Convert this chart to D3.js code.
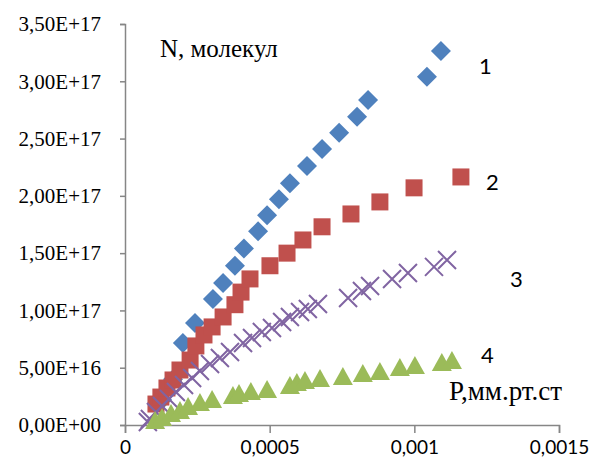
<!DOCTYPE html>
<html>
<head>
<meta charset="utf-8">
<script src="https://cdn.jsdelivr.net/npm/d3@7"></script>
<style>
  body { margin: 0; background: #fff; }
  svg { display: block; }
</style>
</head>
<body>
<svg id="chart"></svg>
<script>
const width = 594;
const height = 466;
const margin = { top: 24, right: 35, bottom: 41, left: 125 };

// pressure, mm Hg
const p1 = [0.000128, 0.000166, 0.000200, 0.000242, 0.000304, 0.000339, 0.000380, 0.000411, 0.000460,
  0.000491, 0.000532, 0.000570, 0.000629, 0.000681, 0.000740, 0.000802, 0.000840, 0.0010435, 0.001092];
const n1 = [0.22e17, 0.40e17, 0.716e17, 0.89e17, 1.10e17, 1.24e17, 1.39e17, 1.54e17, 1.69e17,
  1.83e17, 1.97e17, 2.11e17, 2.26e17, 2.41e17, 2.55e17, 2.69e17, 2.837e17, 3.04e17, 3.265e17];

const p2 = [0.000107, 0.000124, 0.000145, 0.000166, 0.000190, 0.000225, 0.000245, 0.000273, 0.000301, 0.000339,
  0.000380, 0.000401, 0.000432, 0.000501, 0.000560, 0.000615, 0.000681, 0.000781, 0.000881, 0.000999, 0.001161];
const n2 = [0.183e17, 0.244e17, 0.323e17, 0.393e17, 0.48e17, 0.567e17, 0.69e17, 0.786e17, 0.856e17, 0.943e17,
  1.05e17, 1.16e17, 1.275e17, 1.39e17, 1.50e17, 1.615e17, 1.73e17, 1.842e17, 1.947e17, 2.07e17, 2.165e17];

const p3 = [0.000079, 0.000086, 0.000107, 0.000128, 0.000152, 0.000176, 0.000204, 0.000232, 0.000259, 0.000294,
  0.000328, 0.000363, 0.000408, 0.000439, 0.000473, 0.000508, 0.000543, 0.000570, 0.000605, 0.000632,
  0.000667, 0.000771, 0.000819, 0.000847, 0.000923, 0.000978, 0.001068, 0.001113];
const n3 = [0.026e17, 0.052e17, 0.113e17, 0.166e17, 0.227e17, 0.288e17, 0.349e17, 0.41e17, 0.471e17, 0.533e17,
  0.585e17, 0.637e17, 0.716e17, 0.76e17, 0.812e17, 0.847e17, 0.899e17, 0.943e17, 0.986e17, 1.013e17,
  1.056e17, 1.109e17, 1.17e17, 1.213e17, 1.275e17, 1.327e17, 1.38e17, 1.44e17];

const p4 = [0.000104, 0.000128, 0.000159, 0.000190, 0.000218, 0.000259, 0.000301, 0.000373, 0.000394, 0.000435,
  0.000491, 0.000570, 0.000594, 0.000622, 0.000674, 0.000753, 0.000822, 0.000881, 0.000950, 0.001002,
  0.001095, 0.001130];
const n4 = [0.035e17, 0.061e17, 0.096e17, 0.122e17, 0.157e17, 0.192e17, 0.218e17, 0.253e17, 0.271e17, 0.288e17,
  0.306e17, 0.34e17, 0.367e17, 0.384e17, 0.402e17, 0.419e17, 0.445e17, 0.463e17, 0.498e17, 0.515e17,
  0.541e17, 0.559e17];

const xTicks = [0, 0.0005, 0.001, 0.0015];
const yTicks = [0, 5e16, 1e17, 1.5e17, 2e17, 2.5e17, 3e17, 3.5e17];

const svg = d3.select("#chart").attr("width", width).attr("height", height);

const x = d3.scaleLinear().domain([0, 0.0015]).range([margin.left, width - margin.right]);
const y = d3.scaleLinear().domain([0, 3.5e17]).range([height - margin.bottom, margin.top]);

const fmtY = d => d.toExponential(2).replace(".", ",").replace(/e([+-])(\d)$/, "E$10$2").replace("e", "E");
const fmtX = d => (d === 0 ? "0" : String(d).replace(".", ","));

const axisColor = "#868686";

// y axis
let yAxis = svg.append("g")
  .attr("transform", `translate(${margin.left},0)`)
  .call(d3.axisLeft(y).tickValues(yTicks).tickSize(5).tickPadding(19).tickFormat(fmtY));
yAxis.selectAll("path, line").attr("stroke", axisColor).attr("stroke-width", 1.5);
yAxis.selectAll("text")
  .attr("fill", "#000")
  .style("font-family", "'Liberation Serif', 'Times New Roman', serif")
  .style("font-size", "21px");

// x axis
let xAxis = svg.append("g")
  .attr("transform", `translate(0,${height - margin.bottom})`)
  .call(d3.axisBottom(x).tickValues(xTicks).tickSize(8).tickSizeOuter(8).tickPadding(8).tickFormat(fmtX));
xAxis.selectAll("path, line").attr("stroke", axisColor).attr("stroke-width", 1.5);
xAxis.selectAll("text")
  .attr("fill", "#000")
  .style("font-family", "Lato, 'Liberation Sans', sans-serif")
  .style("font-size", "19px");

const series = [
  { p: p1, n: n1, color: "#4F81BD", shape: "diamond" },
  { p: p2, n: n2, color: "#C0504D", shape: "square" },
  { p: p3, n: n3, color: "#8064A2", shape: "cross" },
  { p: p4, n: n4, color: "#9BBB59", shape: "triangle" }
];

const shapes = {
  diamond: "M0,-10L10,0L0,10L-10,0Z",
  square: "M-8.5,-8.5H8.5V8.5H-8.5Z",
  cross: "M-9,-9L9,9M-9,9L9,-9",
  triangle: "M0,-10L10,8L-10,8Z"
};

series.forEach(s => {
  let pts = s.p.map((v, i) => [v, s.n[i]]);
  svg.append("g")
    .selectAll("path")
    .data(pts)
    .enter()
    .append("path")
    .attr("transform", d => `translate(${x(d[0])},${y(d[1])})`)
    .attr("d", shapes[s.shape])
    .attr("fill", s.shape === "cross" ? "none" : s.color)
    .attr("stroke", s.shape === "cross" ? s.color : "none")
    .attr("stroke-width", 2);
});

// labels
const serif = "'Liberation Serif', 'Times New Roman', serif";
svg.append("text")
  .attr("x", 160).attr("y", 57)
  .style("font-family", serif).style("font-size", "25px")
  .text("N, молекул");
svg.append("text")
  .attr("x", 449).attr("y", 400)
  .style("font-family", serif).style("font-size", "27px")
  .text("P,мм.рт.ст");

const numLabels = [
  { t: "1", x: 479, y: 74 },
  { t: "2", x: 486, y: 190 },
  { t: "3", x: 510, y: 287 },
  { t: "4", x: 481, y: 363 }
];
svg.selectAll(".num")
  .data(numLabels)
  .enter()
  .append("text")
  .attr("class", "num")
  .attr("x", d => d.x).attr("y", d => d.y)
  .style("font-family", "Lato, 'Liberation Sans', sans-serif")
  .style("font-size", "22px")
  .text(d => d.t);
</script>
</body>
</html>
